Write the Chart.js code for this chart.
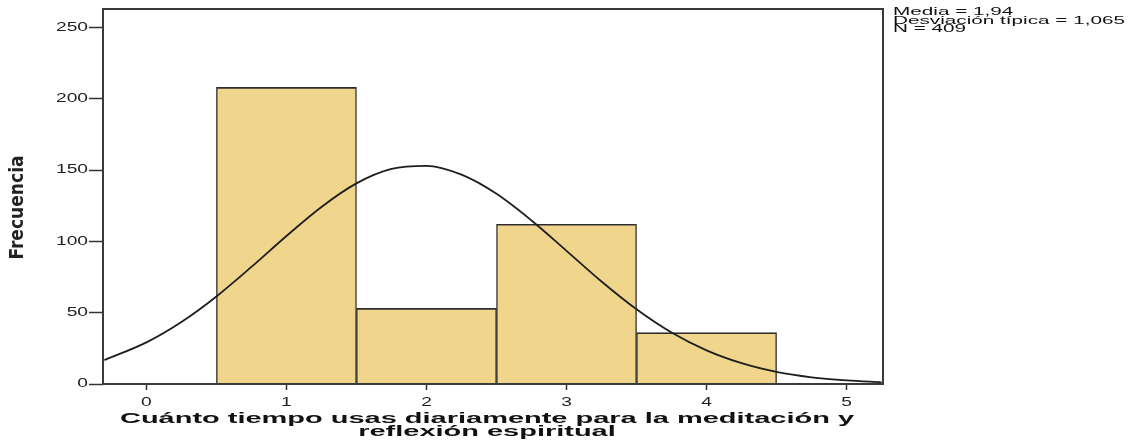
<!DOCTYPE html>
<html>
<head>
<meta charset="utf-8">
<script src="https://cdn.jsdelivr.net/npm/chart.js@4"></script>
<style>
html,body{margin:0;padding:0;background:#fff;}
#wrap{width:1129px;height:440px;}
</style>
</head>
<body>
<div id="wrap"><canvas id="c" width="1129" height="440"></canvas></div>
<script>
// ---- data ----
const binCenters = [1, 2, 3, 4];
const frequencies = [208, 53, 112, 36];
const curveX = [-0.3, 0, 0.25, 0.5, 0.75, 1, 1.25, 1.5, 1.75, 2, 2.25, 2.5, 2.75, 3, 3.25, 3.5, 3.75, 4, 4.25, 4.5, 4.75, 5, 5.25];
const curveY = [16.8, 29.2, 43.5, 61.4, 82.1, 103.8, 124.2, 140.7, 150.8, 153.0, 146.8, 133.4, 114.7, 93.4, 71.9, 52.4, 36.1, 23.6, 14.6, 8.5, 4.7, 2.5, 1.2];
const xTickValues = [0, 1, 2, 3, 4, 5];
const yTickValues = [0, 50, 100, 150, 200, 250];
const statLines = ['Media = 1,94', 'Desviación típica = 1,065', 'N = 409'];
const xTitleLines = ['Cuánto tiempo usas diariamente para la meditación y', 'reflexión espiritual'];
const yTitle = 'Frecuencia';

const ARIAL = '"Liberation Sans", Arial, sans-serif';
const NARROW = '"Liberation Sans Narrow", "DejaVu Sans Condensed", sans-serif';

function patchScales(chart) {
  const xs = chart.scales.x, ys = chart.scales.y;
  if (xs._patched) return;
  xs._patched = true;
  const ctx = chart.ctx;
  // x title: horizontally stretched bold text
  ctx.save();
  ctx.font = 'bold 14px ' + ARIAL;
  const kT = 734 / ctx.measureText(xTitleLines[0]).width;
  ctx.restore();
  const origXT = xs.drawTitle;
  xs.drawTitle = function () {
    const c = this.ctx, cx = (this.left + this.right) / 2;
    c.save(); c.translate(cx - 6, 0); c.scale(kT, 1); c.translate(-cx, 0);
    origXT.call(this); c.restore();
  };
  // y title: moved down a little
  const origYT = ys.drawTitle;
  ys.drawTitle = function () {
    const c = this.ctx;
    c.save(); c.translate(0, 11); origYT.call(this); c.restore();
  };
  // x tick labels stretched
  const kX = 1.6;
  const origGet = xs.getLabelItems.bind(xs);
  xs.getLabelItems = function (ca) {
    return origGet(ca).map(it => Object.assign({}, it, {
      options: Object.assign({}, it.options, {translation: [it.options.translation[0] / kX, it.options.translation[1]]})
    }));
  };
  const origXL = xs.drawLabels;
  xs.drawLabels = function (ca) {
    const c = this.ctx; c.save(); c.scale(kX, 1); origXL.call(this, ca); c.restore();
  };
  // y tick labels stretched about their right edge
  const kY = 1.6;
  const origYL = ys.drawLabels;
  ys.drawLabels = function (ca) {
    const c = this.ctx; const rx = this.right - 14 - 1;
    c.save(); c.translate(rx, 0); c.scale(kY, 1); c.translate(-rx, 0);
    origYL.call(this, ca); c.restore();
  };
}

const patchPlugin = { id: 'patch', beforeDraw(chart) { patchScales(chart); } };

const boxPlugin = {
  id: 'box',
  afterDatasetsDraw(chart) {
    const {ctx, chartArea: a} = chart;
    ctx.save();
    ctx.strokeStyle = '#3a3a3a';
    ctx.lineWidth = 2;
    ctx.strokeRect(a.left, a.top, a.right - a.left, a.bottom - a.top);
    ctx.restore();
  }
};

const statsPlugin = {
  id: 'stats',
  afterDraw(chart) {
    const ctx = chart.ctx;
    ctx.save();
    ctx.font = '11px ' + ARIAL;
    ctx.fillStyle = '#111';
    ctx.textBaseline = 'middle';
    const x0 = chart.chartArea.right + 10;
    const k = 232 / ctx.measureText(statLines[1]).width;
    ctx.translate(x0, 0);
    ctx.scale(k, 1);
    statLines.forEach((t, i) => ctx.fillText(t, 0, 12 + i * 8.5));
    ctx.restore();
  }
};

new Chart(document.getElementById('c'), {
  type: 'bar',
  data: {
    datasets: [
      {
        type: 'line',
        data: curveX.map((x, i) => ({x: x, y: curveY[i]})),
        borderColor: '#1e1e1e',
        borderWidth: 1.8,
        pointRadius: 0,
        cubicInterpolationMode: 'monotone',
        fill: false,
        order: 1
      },
      {
        type: 'bar',
        data: binCenters.map((x, i) => ({x: x, y: frequencies[i]})),
        backgroundColor: '#F0D68C',
        borderColor: '#2e2e2e',
        borderWidth: {top: 1.6, left: 1.4, right: 1.4, bottom: 0},
        borderSkipped: false,
        barPercentage: 1,
        categoryPercentage: 1,
        grouped: false,
        order: 2
      }
    ]
  },
  options: {
    responsive: false,
    animation: false,
    devicePixelRatio: 1,
    layout: {padding: {left: 0, right: 246, top: 9, bottom: 0}},
    plugins: {legend: {display: false}, tooltip: {enabled: false}},
    scales: {
      x: {
        type: 'linear',
        min: -0.31,
        max: 5.26,
        offset: false,
        border: {display: false},
        grid: {offset: false, drawOnChartArea: false, drawTicks: true, tickLength: 6, tickColor: '#333', tickWidth: 1.5},
        afterBuildTicks: s => { s.ticks = xTickValues.map(v => ({value: v})); },
        ticks: {color: '#222', font: {family: ARIAL, size: 12}, padding: 5, maxRotation: 0, autoSkip: false},
        title: {
          display: true,
          text: xTitleLines,
          color: '#111',
          font: {family: ARIAL, size: 14, weight: 'bold', lineHeight: '13px'},
          padding: {top: 0, bottom: 1.5}
        },
        afterFit: s => { s.height = 56; }
      },
      y: {
        min: 0,
        max: 263,
        border: {display: false},
        grid: {drawOnChartArea: false, drawTicks: true, tickLength: 14, tickColor: '#333', tickWidth: 1.5},
        afterBuildTicks: s => { s.ticks = yTickValues.map(v => ({value: v})); },
        ticks: {color: '#222', font: {family: ARIAL, size: 12}, padding: 1},
        title: {
          display: true,
          text: yTitle,
          color: '#222',
          font: {family: NARROW, size: 19, weight: 'bold', lineHeight: 1.2},
          padding: {top: 7, bottom: 0}
        },
        afterFit: s => { s.width = 103; }
      }
    }
  },
  plugins: [patchPlugin, boxPlugin, statsPlugin]
});
</script>
</body>
</html>
